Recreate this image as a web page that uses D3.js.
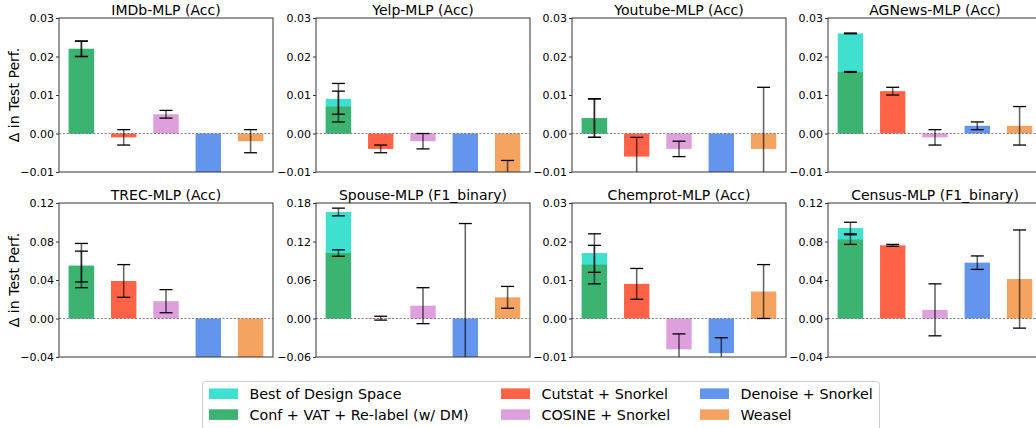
<!DOCTYPE html>
<html>
<head>
<meta charset="utf-8">
<script src="https://cdn.jsdelivr.net/npm/d3@7"></script>
<style>
  html, body { margin: 0; padding: 0; background: #fff; }
  svg { display: block; font-family: "DejaVu Sans", sans-serif; }
</style>
</head>
<body>
<svg id="chart" width="1036" height="428"></svg>
<script>
// ---------------- DATA ----------------
const titles = ["IMDb-MLP (Acc)", "Yelp-MLP (Acc)", "Youtube-MLP (Acc)", "AGNews-MLP (Acc)",
                "TREC-MLP (Acc)", "Spouse-MLP (F1_binary)", "Chemprot-MLP (Acc)", "Census-MLP (F1_binary)"];
const methods = ["Best of Design Space", "Conf + VAT + Re-label (w/ DM)", "Cutstat + Snorkel",
                 "COSINE + Snorkel", "Denoise + Snorkel", "Weasel"];
const colors = ["#40E0D0", "#3CB371", "#FF6347", "#DDA0DD", "#6495ED", "#F4A460"];

const bestVals    = [0.022, 0.009, 0.004, 0.026, 0.054, 0.166, 0.017, 0.094];
const bestErr     = [0.002, 0.004, 0.005, 0.0001, 0.016, 0.006, 0.005, 0.006];
const confVals    = [0.022, 0.007, 0.004, 0.016, 0.055, 0.102, 0.014, 0.082];
const confErr     = [0.002, 0.004, 0.005, 0.0001, 0.023, 0.005, 0.005, 0.005];
const cutstatVals = [-0.001, -0.004, -0.006, 0.011, 0.039, 0.0005, 0.009, 0.076];
const cutstatErr  = [0.002, 0.001, 0.005, 0.001, 0.017, 0.003, 0.004, 0.001];
const cosineVals  = [0.005, -0.002, -0.004, -0.001, 0.018, 0.020, -0.008, 0.009];
const cosineErr   = [0.001, 0.002, 0.002, 0.002, 0.012, 0.028, 0.004, 0.027];
const denoiseVals = [-0.03, -0.03, -0.03, 0.002, -0.10, -0.07, -0.009, 0.058];
const denoiseErr  = [0.003, 0.003, 0.003, 0.001, 0.01, 0.218, 0.004, 0.007];
const weaselVals  = [-0.002, -0.012, -0.004, 0.002, -0.10, 0.033, 0.007, 0.041];
const weaselErr   = [0.003, 0.005, 0.016, 0.005, 0.01, 0.017, 0.007, 0.051];

const yMins  = [-0.01, -0.01, -0.01, -0.01, -0.04, -0.06, -0.01, -0.04];
const yMaxs  = [0.03, 0.03, 0.03, 0.03, 0.12, 0.18, 0.03, 0.12];
const yTicks = [
  [-0.01, 0.00, 0.01, 0.02, 0.03],
  [-0.01, 0.00, 0.01, 0.02, 0.03],
  [-0.01, 0.00, 0.01, 0.02, 0.03],
  [-0.01, 0.00, 0.01, 0.02, 0.03],
  [-0.04, 0.00, 0.04, 0.08, 0.12],
  [-0.06, 0.00, 0.06, 0.12, 0.18],
  [-0.01, 0.00, 0.01, 0.02, 0.03],
  [-0.04, 0.00, 0.04, 0.08, 0.12]
];
const yLabel = "\u0394 in Test Perf.";

// ---------------- LAYOUT ----------------
const svg = d3.select("#chart");
const panelW = 214, panelH = 154;
const colX = [59, 316, 572, 828];
const rowY = [18, 203];
const fmt = v => (v < 0 ? "\u2212" : "") + Math.abs(v).toFixed(2);

// bars per panel: slot 0 = best (behind) + conf, slots 1..4 = others
function panelBars(i) {
  return [
    {slot: 0, v: bestVals[i], e: bestErr[i], c: colors[0]},
    {slot: 0, v: confVals[i], e: confErr[i], c: colors[1]},
    {slot: 1, v: cutstatVals[i], e: cutstatErr[i], c: colors[2]},
    {slot: 2, v: cosineVals[i], e: cosineErr[i], c: colors[3]},
    {slot: 3, v: denoiseVals[i], e: denoiseErr[i], c: colors[4]},
    {slot: 4, v: weaselVals[i], e: weaselErr[i], c: colors[5]}
  ];
}

const defs = svg.append("defs");

titles.forEach((title, i) => {
  const r = Math.floor(i / 4), c = i % 4;
  const g = svg.append("g").attr("transform", `translate(${colX[c]},${rowY[r]})`);
  const x = d3.scaleLinear().domain([-0.53, 4.53]).range([0, panelW]);
  const y = d3.scaleLinear().domain([yMins[i], yMaxs[i]]).range([panelH, 0]);
  const bw = x(0.6) - x(0);

  defs.append("clipPath").attr("id", "clip" + i)
    .append("rect").attr("x", 0).attr("y", 0).attr("width", panelW).attr("height", panelH);

  const plot = g.append("g").attr("clip-path", `url(#clip${i})`);
  const bars = panelBars(i);

  plot.selectAll("rect.bar").data(bars).enter().append("rect")
    .attr("class", "bar")
    .attr("x", d => x(d.slot) - bw / 2)
    .attr("width", bw)
    .attr("y", d => y(Math.max(0, d.v)))
    .attr("height", d => Math.abs(y(d.v) - y(0)))
    .attr("fill", d => d.c);

  // zero line
  plot.append("line")
    .attr("x1", 0).attr("x2", panelW)
    .attr("y1", y(0)).attr("y2", y(0))
    .attr("stroke", "#666").attr("stroke-width", 0.8)
    .attr("stroke-dasharray", "2.2,1.6");

  // error bars
  const cap = 6.5;
  bars.forEach(d => {
    const cx = x(d.slot);
    plot.append("line")
      .attr("x1", cx).attr("x2", cx)
      .attr("y1", y(d.v - d.e)).attr("y2", y(d.v + d.e))
      .attr("stroke", "#000").attr("stroke-opacity", 0.6).attr("stroke-width", 1.6);
    [d.v - d.e, d.v + d.e].forEach(ev => {
      plot.append("line")
        .attr("x1", cx - cap).attr("x2", cx + cap)
        .attr("y1", y(ev)).attr("y2", y(ev))
        .attr("stroke", "#000").attr("stroke-width", 1.3);
    });
  });

  // y axis
  const yAxis = d3.axisLeft(y).tickValues(yTicks[i]).tickFormat(fmt).tickSize(3).tickPadding(2);
  const ag = g.append("g").call(yAxis);
  ag.select(".domain").remove();
  ag.selectAll(".tick line").attr("stroke", "#333");
  ag.selectAll(".tick text").attr("font-size", 11).attr("fill", "#000")
    .attr("font-family", "DejaVu Sans");

  // frame
  g.append("rect").attr("x", 0).attr("y", 0).attr("width", panelW).attr("height", panelH)
    .attr("fill", "none").attr("stroke", "#333").attr("stroke-width", 1);

  // title
  g.append("text").attr("x", panelW / 2).attr("y", -3.5)
    .attr("text-anchor", "middle").attr("font-size", 14).attr("fill", "#000")
    .text(title);

  if (c === 0) {
    g.append("text")
      .attr("transform", `translate(${19 - colX[0]},${panelH / 2}) rotate(-90)`)
      .attr("text-anchor", "middle").attr("font-size", 14.1).attr("fill", "#000")
      .text(yLabel);
  }
});

// ---------------- LEGEND ----------------
const leg = svg.append("g");
leg.append("rect").attr("x", 202.5).attr("y", 381.5).attr("width", 677).attr("height", 60)
  .attr("rx", 3).attr("fill", "#fff").attr("stroke", "#ccc").attr("stroke-width", 1);
const legCols = [209, 501, 700];
const legRows = [393.7, 414.6];
legendOrder = [0, 1, 2, 3, 4, 5]; // column-major
legendOrder.forEach((m, k) => {
  const col = Math.floor(k / 2), row = k % 2;
  const lx = legCols[col], ly = legRows[row];
  leg.append("rect").attr("x", lx).attr("y", ly - 5.3).attr("width", 29).attr("height", 10.6)
    .attr("fill", colors[m]);
  leg.append("text").attr("x", lx + 40.5).attr("y", ly + 5.2)
    .attr("font-size", 14.3).attr("fill", "#000").text(methods[m]);
});
</script>
</body>
</html>
